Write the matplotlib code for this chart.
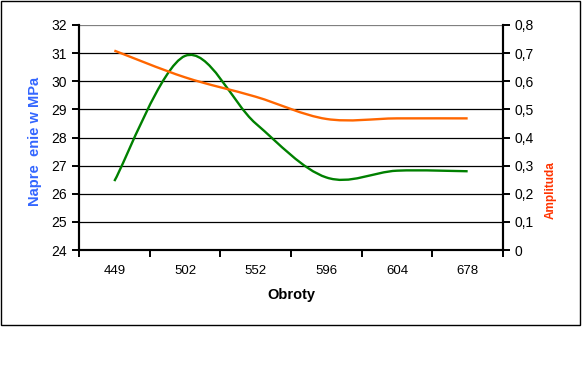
import matplotlib
matplotlib.use('Agg')
import matplotlib.pyplot as plt
from matplotlib.path import Path
from matplotlib.patches import PathPatch, Rectangle
import numpy as np

plt.rcParams['font.family'] = ['Liberation Sans', 'DejaVu Sans']

# dane
obroty = ['449', '502', '552', '596', '604', '678']
naprezenie = [26.45, 30.9, 28.5, 26.58, 26.82, 26.8]
amplituda = [0.709, 0.614, 0.545, 0.466, 0.468, 0.468]


def smooth_path(xs, ys):
    # wygladzona linia jak w Excelu (krzywe Beziera)
    pts = np.column_stack([xs, ys]).astype(float)
    n = len(pts)
    verts = [pts[0]]
    codes = [Path.MOVETO]
    for i in range(n - 1):
        p0 = pts[max(i - 1, 0)]
        p1 = pts[i]
        p2 = pts[i + 1]
        p3 = pts[min(i + 2, n - 1)]
        c1 = p1 + (p2 - p0) / 6
        c2 = p2 - (p3 - p1) / 6
        verts += [c1, c2, p2]
        codes += [Path.CURVE4] * 3
    return Path(verts, codes)


fig = plt.figure(figsize=(5.85, 3.72), dpi=100)
fig.patches.append(Rectangle((1 / 585, 1 - 325 / 372), 579 / 585, 324 / 372,
                             transform=fig.transFigure, fill=False,
                             edgecolor='black', lw=1.0))

ax = fig.add_axes([79 / 585, 1 - 250 / 372, 424 / 585, 225 / 372])
ax2 = ax.twinx()

x = np.arange(len(obroty))

ax.set_xlim(-0.5, len(obroty) - 0.5)
ax.set_ylim(24, 32)
ax.set_yticks(range(24, 33))
for v in range(25, 32):
    ax.axhline(v, color='black', lw=0.9, zorder=0)
ax.axhline(32, color='#808080', lw=0.9, zorder=0)

ax.add_patch(PathPatch(smooth_path(x, naprezenie), fill=False,
                       edgecolor='#008000', lw=1.7, zorder=3))

ax2.set_ylim(0, 0.8)
ax2.set_yticks(np.arange(0, 0.81, 0.1))
ax2.set_yticklabels(['0'] + ['0,%d' % i for i in range(1, 9)])
ax2.add_patch(PathPatch(smooth_path(x, amplituda), fill=False,
                        edgecolor='#FF6600', lw=1.7, zorder=3))

ax.set_xticks(x)
ax.set_xticklabels(obroty, fontsize=9.5)
ax.set_xticks(np.arange(-0.5, len(obroty)), minor=True)
ax.tick_params(axis='x', which='major', length=0, pad=11)
ax.tick_params(axis='x', which='minor', length=5, width=1.4, direction='out')
ax.tick_params(axis='y', labelsize=10, length=5, width=1.4, direction='out')
ax2.tick_params(axis='y', labelsize=10, length=5, width=1.4, direction='out')

for a in (ax, ax2):
    a.spines['top'].set_visible(False)
    for s in ('left', 'right', 'bottom'):
        a.spines[s].set_linewidth(1.5)

ax.set_xlabel('Obroty', fontsize=10.5, fontweight='bold', labelpad=8)
fig.text(35 / 585, 1 - 141 / 372, 'Napre  enie w MPa', rotation=90,
         color='#3366FF', fontsize=10.5, fontweight='bold',
         ha='center', va='center')
fig.text(551 / 585, 1 - 190 / 372, 'Amplituda', rotation=90,
         color='#FF3300', fontsize=8.5, fontweight='bold',
         ha='center', va='center')

fig.savefig('out.png', dpi=100)
